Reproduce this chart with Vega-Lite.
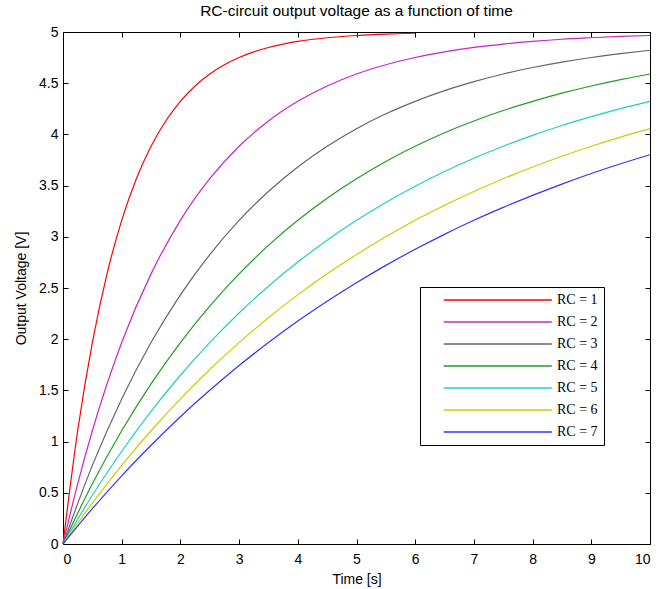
{
  "$schema": "https://vega.github.io/schema/vega-lite/v6.json",
  "width": 587,
  "height": 512,
  "autosize": "none",
  "padding": {"left": 63, "top": 32, "right": 8, "bottom": 45},
  "background": "white",
  "title": {"text": "RC-circuit output voltage as a function of time", "font": "Liberation Sans", "fontSize": 15.5, "fontWeight": "normal", "color": "#000", "anchor": "middle", "offset": 6},
  "config": {"view": {"stroke": "black", "strokeWidth": 1}, "axis": {"labelFont": "Liberation Sans", "titleFont": "Liberation Sans", "labelFontSize": 14, "titleFontSize": 14, "titleFontWeight": "normal", "labelColor": "#000", "titleColor": "#000", "grid": false, "domain": false, "tickColor": "#000", "tickSize": -5}},
  "data": {"values": [
    {"t":0,"v":0,"s":"RC = 1"},{"t":0.25,"v":1.106,"s":"RC = 1"},{"t":0.5,"v":1.967,"s":"RC = 1"},{"t":0.75,"v":2.638,"s":"RC = 1"},{"t":1,"v":3.161,"s":"RC = 1"},{"t":1.25,"v":3.567,"s":"RC = 1"},{"t":1.5,"v":3.884,"s":"RC = 1"},{"t":1.75,"v":4.131,"s":"RC = 1"},{"t":2,"v":4.323,"s":"RC = 1"},{"t":2.25,"v":4.473,"s":"RC = 1"},{"t":2.5,"v":4.59,"s":"RC = 1"},{"t":2.75,"v":4.68,"s":"RC = 1"},{"t":3,"v":4.751,"s":"RC = 1"},{"t":3.25,"v":4.806,"s":"RC = 1"},{"t":3.5,"v":4.849,"s":"RC = 1"},{"t":3.75,"v":4.882,"s":"RC = 1"},{"t":4,"v":4.908,"s":"RC = 1"},{"t":4.5,"v":4.944,"s":"RC = 1"},{"t":5,"v":4.966,"s":"RC = 1"},{"t":5.5,"v":4.98,"s":"RC = 1"},{"t":6,"v":4.988,"s":"RC = 1"},
    {"t":0,"v":0,"s":"RC = 2"},{"t":0.25,"v":0.588,"s":"RC = 2"},{"t":0.5,"v":1.106,"s":"RC = 2"},{"t":1,"v":1.967,"s":"RC = 2"},{"t":1.5,"v":2.638,"s":"RC = 2"},{"t":2,"v":3.161,"s":"RC = 2"},{"t":2.5,"v":3.567,"s":"RC = 2"},{"t":3,"v":3.884,"s":"RC = 2"},{"t":3.5,"v":4.131,"s":"RC = 2"},{"t":4,"v":4.323,"s":"RC = 2"},{"t":4.5,"v":4.473,"s":"RC = 2"},{"t":5,"v":4.59,"s":"RC = 2"},{"t":5.5,"v":4.68,"s":"RC = 2"},{"t":6,"v":4.751,"s":"RC = 2"},{"t":6.5,"v":4.806,"s":"RC = 2"},{"t":7,"v":4.849,"s":"RC = 2"},{"t":7.5,"v":4.882,"s":"RC = 2"},{"t":8,"v":4.908,"s":"RC = 2"},{"t":8.5,"v":4.929,"s":"RC = 2"},{"t":9,"v":4.944,"s":"RC = 2"},{"t":9.5,"v":4.957,"s":"RC = 2"},{"t":10,"v":4.966,"s":"RC = 2"},
    {"t":0,"v":0,"s":"RC = 3"},{"t":0.5,"v":0.768,"s":"RC = 3"},{"t":1,"v":1.417,"s":"RC = 3"},{"t":1.5,"v":1.967,"s":"RC = 3"},{"t":2,"v":2.433,"s":"RC = 3"},{"t":2.5,"v":2.827,"s":"RC = 3"},{"t":3,"v":3.161,"s":"RC = 3"},{"t":3.5,"v":3.443,"s":"RC = 3"},{"t":4,"v":3.682,"s":"RC = 3"},{"t":4.5,"v":3.884,"s":"RC = 3"},{"t":5,"v":4.056,"s":"RC = 3"},{"t":5.5,"v":4.201,"s":"RC = 3"},{"t":6,"v":4.323,"s":"RC = 3"},{"t":6.5,"v":4.427,"s":"RC = 3"},{"t":7,"v":4.515,"s":"RC = 3"},{"t":7.5,"v":4.59,"s":"RC = 3"},{"t":8,"v":4.653,"s":"RC = 3"},{"t":8.5,"v":4.706,"s":"RC = 3"},{"t":9,"v":4.751,"s":"RC = 3"},{"t":9.5,"v":4.789,"s":"RC = 3"},{"t":10,"v":4.822,"s":"RC = 3"},
    {"t":0,"v":0,"s":"RC = 4"},{"t":0.5,"v":0.588,"s":"RC = 4"},{"t":1,"v":1.106,"s":"RC = 4"},{"t":1.5,"v":1.564,"s":"RC = 4"},{"t":2,"v":1.967,"s":"RC = 4"},{"t":2.5,"v":2.324,"s":"RC = 4"},{"t":3,"v":2.638,"s":"RC = 4"},{"t":3.5,"v":2.916,"s":"RC = 4"},{"t":4,"v":3.161,"s":"RC = 4"},{"t":4.5,"v":3.377,"s":"RC = 4"},{"t":5,"v":3.567,"s":"RC = 4"},{"t":5.5,"v":3.736,"s":"RC = 4"},{"t":6,"v":3.884,"s":"RC = 4"},{"t":6.5,"v":4.016,"s":"RC = 4"},{"t":7,"v":4.131,"s":"RC = 4"},{"t":7.5,"v":4.233,"s":"RC = 4"},{"t":8,"v":4.323,"s":"RC = 4"},{"t":8.5,"v":4.403,"s":"RC = 4"},{"t":9,"v":4.473,"s":"RC = 4"},{"t":9.5,"v":4.535,"s":"RC = 4"},{"t":10,"v":4.59,"s":"RC = 4"},
    {"t":0,"v":0,"s":"RC = 5"},{"t":0.5,"v":0.476,"s":"RC = 5"},{"t":1,"v":0.906,"s":"RC = 5"},{"t":1.5,"v":1.296,"s":"RC = 5"},{"t":2,"v":1.648,"s":"RC = 5"},{"t":2.5,"v":1.967,"s":"RC = 5"},{"t":3,"v":2.256,"s":"RC = 5"},{"t":3.5,"v":2.517,"s":"RC = 5"},{"t":4,"v":2.753,"s":"RC = 5"},{"t":4.5,"v":2.967,"s":"RC = 5"},{"t":5,"v":3.161,"s":"RC = 5"},{"t":5.5,"v":3.336,"s":"RC = 5"},{"t":6,"v":3.494,"s":"RC = 5"},{"t":6.5,"v":3.637,"s":"RC = 5"},{"t":7,"v":3.767,"s":"RC = 5"},{"t":7.5,"v":3.884,"s":"RC = 5"},{"t":8,"v":3.991,"s":"RC = 5"},{"t":8.5,"v":4.087,"s":"RC = 5"},{"t":9,"v":4.173,"s":"RC = 5"},{"t":9.5,"v":4.252,"s":"RC = 5"},{"t":10,"v":4.323,"s":"RC = 5"},
    {"t":0,"v":0,"s":"RC = 6"},{"t":0.5,"v":0.4,"s":"RC = 6"},{"t":1,"v":0.768,"s":"RC = 6"},{"t":1.5,"v":1.106,"s":"RC = 6"},{"t":2,"v":1.417,"s":"RC = 6"},{"t":2.5,"v":1.704,"s":"RC = 6"},{"t":3,"v":1.967,"s":"RC = 6"},{"t":3.5,"v":2.21,"s":"RC = 6"},{"t":4,"v":2.433,"s":"RC = 6"},{"t":4.5,"v":2.638,"s":"RC = 6"},{"t":5,"v":2.827,"s":"RC = 6"},{"t":5.5,"v":3.001,"s":"RC = 6"},{"t":6,"v":3.161,"s":"RC = 6"},{"t":6.5,"v":3.308,"s":"RC = 6"},{"t":7,"v":3.443,"s":"RC = 6"},{"t":7.5,"v":3.567,"s":"RC = 6"},{"t":8,"v":3.682,"s":"RC = 6"},{"t":8.5,"v":3.787,"s":"RC = 6"},{"t":9,"v":3.884,"s":"RC = 6"},{"t":9.5,"v":3.974,"s":"RC = 6"},{"t":10,"v":4.056,"s":"RC = 6"},
    {"t":0,"v":0,"s":"RC = 7"},{"t":0.5,"v":0.345,"s":"RC = 7"},{"t":1,"v":0.666,"s":"RC = 7"},{"t":1.5,"v":0.964,"s":"RC = 7"},{"t":2,"v":1.243,"s":"RC = 7"},{"t":2.5,"v":1.501,"s":"RC = 7"},{"t":3,"v":1.743,"s":"RC = 7"},{"t":3.5,"v":1.967,"s":"RC = 7"},{"t":4,"v":2.177,"s":"RC = 7"},{"t":4.5,"v":2.371,"s":"RC = 7"},{"t":5,"v":2.552,"s":"RC = 7"},{"t":5.5,"v":2.721,"s":"RC = 7"},{"t":6,"v":2.878,"s":"RC = 7"},{"t":6.5,"v":3.024,"s":"RC = 7"},{"t":7,"v":3.161,"s":"RC = 7"},{"t":7.5,"v":3.287,"s":"RC = 7"},{"t":8,"v":3.405,"s":"RC = 7"},{"t":8.5,"v":3.515,"s":"RC = 7"},{"t":9,"v":3.618,"s":"RC = 7"},{"t":9.5,"v":3.713,"s":"RC = 7"},{"t":10,"v":3.801,"s":"RC = 7"}
  ]},
  "layer": [
    {
      "mark": {"type": "line", "strokeWidth": 1.2, "interpolate": "monotone"},
      "encoding": {
        "x": {"field": "t", "type": "quantitative", "scale": {"domain": [0, 10], "nice": false}, "axis": {"title": "Time [s]", "values": [0,1,2,3,4,5,6,7,8,9,10], "labelPadding": 13, "titlePadding": 6}},
        "y": {"field": "v", "type": "quantitative", "scale": {"domain": [0, 5], "nice": false}, "axis": {"title": "Output Voltage [V]", "values": [0,0.5,1,1.5,2,2.5,3,3.5,4,4.5,5], "labelExpr": "datum.value + ''", "labelPadding": 10, "titlePadding": 10}},
        "color": {"field": "s", "type": "nominal", "scale": {"domain": ["RC = 1","RC = 2","RC = 3","RC = 4","RC = 5","RC = 6","RC = 7"], "range": ["#ff0000","#cc22cc","#666666","#1e9e1e","#22cccc","#cccc00","#3333ff"]},
          "legend": {"title": null, "orient": "none", "legendX": 357, "legendY": 255, "symbolType": "M2,0L22,0", "symbolSize": 116.6, "symbolStrokeWidth": 1.5, "labelFont": "Liberation Serif", "labelFontSize": 14, "labelColor": "#000", "strokeColor": "#000", "fillColor": "white", "padding": 6, "rowPadding": 8, "labelOffset": 117}}
      }
    },
    {
      "mark": {"type": "line", "opacity": 0},
      "encoding": {
        "x": {"field": "t", "type": "quantitative", "axis": {"orient": "top", "labels": false, "title": null, "values": [0,1,2,3,4,5,6,7,8,9,10]}},
        "y": {"field": "v", "type": "quantitative", "axis": {"orient": "right", "labels": false, "title": null, "values": [0,0.5,1,1.5,2,2.5,3,3.5,4,4.5,5]}},
        "detail": {"field": "s"}
      }
    }
  ],
  "resolve": {"axis": {"x": "independent", "y": "independent"}}
}
